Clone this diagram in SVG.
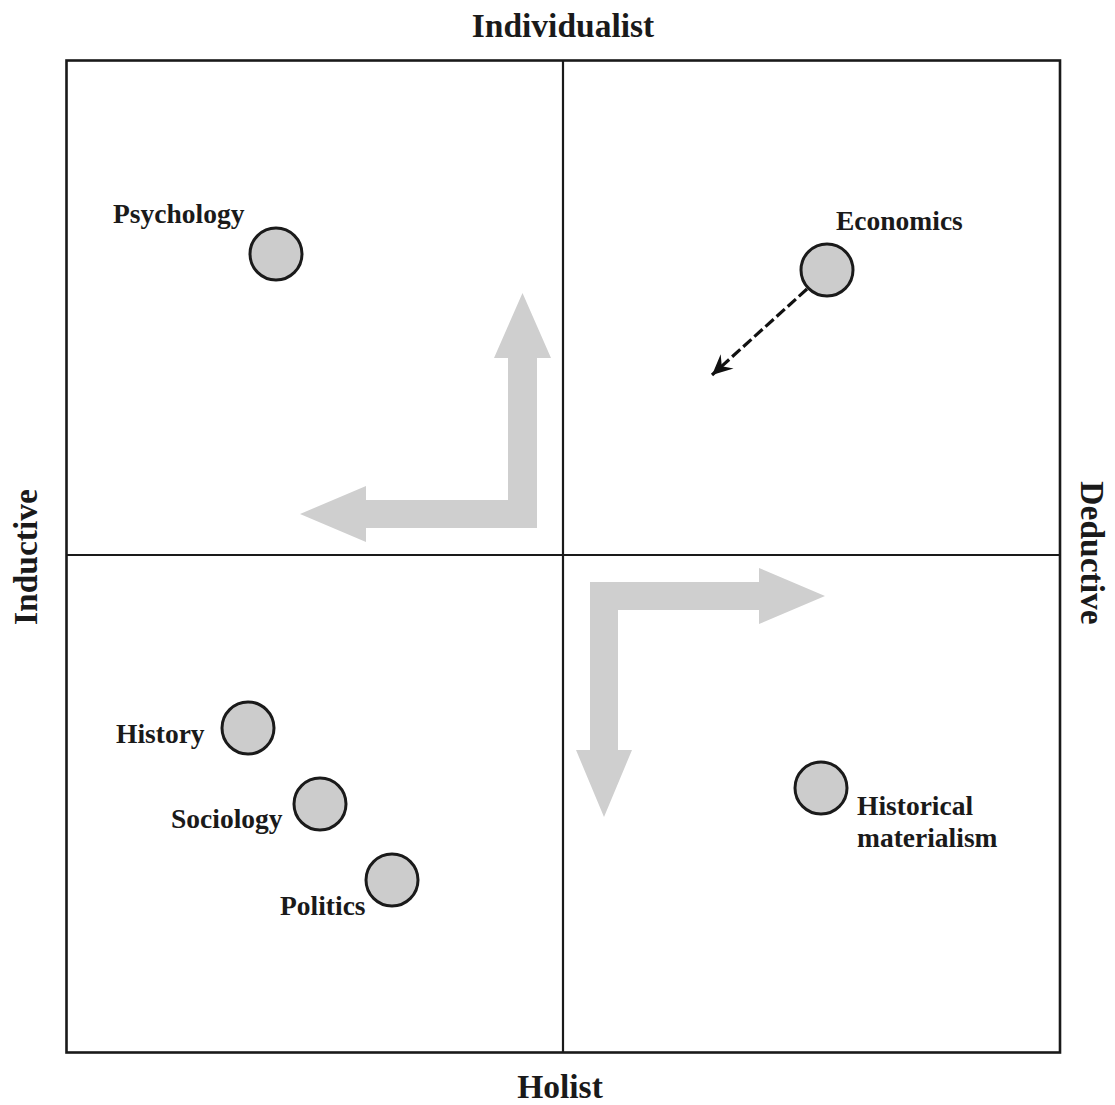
<svg xmlns="http://www.w3.org/2000/svg" width="1115" height="1105" viewBox="0 0 1115 1105">
  <style>
    .frame { fill: none; stroke: #1a1a1a; stroke-width: 2.6; }
    .axis { stroke: #1a1a1a; stroke-width: 2.2; }
    .node { fill: #cccccc; stroke: #1a1a1a; stroke-width: 3; }
    .lbl { font-family: "Liberation Serif", "Times New Roman", serif; font-weight: bold; font-size: 27.5px; fill: #1a1a1a; }
    .axlbl { font-family: "Liberation Serif", "Times New Roman", serif; font-weight: bold; font-size: 33.5px; fill: #1a1a1a; }
    .bigarrow { fill: #cfcfcf; }
    .shift { fill: none; stroke: #111111; stroke-width: 3.2; stroke-dasharray: 11 4; }
  </style>
  <defs>
    <marker id="barb" markerUnits="userSpaceOnUse" markerWidth="24" markerHeight="24" viewBox="-18 -10 20 20" refX="0" refY="0" orient="auto">
      <path d="M0,0 L-17,-8 L-11,0 L-17,8 Z" fill="#111111"/>
    </marker>
  </defs>
  <rect width="1115" height="1105" fill="#ffffff"/>

  <!-- quadrant frame -->
  <g id="frame">
    <rect class="frame" x="66.5" y="60.5" width="993.5" height="992"/>
    <line class="axis" x1="563" y1="60.5" x2="563" y2="1052.5"/>
    <line class="axis" x1="66.5" y1="555" x2="1060" y2="555"/>
  </g>

  <!-- axis labels -->
  <g id="axis-labels">
    <text class="axlbl" x="563" y="37" text-anchor="middle">Individualist</text>
    <text class="axlbl" x="560" y="1098" text-anchor="middle">Holist</text>
    <text class="axlbl" transform="translate(37,557) rotate(-90)" text-anchor="middle">Inductive</text>
    <text class="axlbl" transform="translate(1081,553) rotate(90)" text-anchor="middle">Deductive</text>
  </g>

  <!-- broad direction arrows -->
  <g id="direction-arrows">
    <polygon class="bigarrow" points="522.5,293 551,358 537,358 537,528 366,528 366,542 300,514 366,486 366,500 508,500 508,358 494,358"/>
    <polygon class="bigarrow" points="590,582 759,582 759,568 825,596 759,624 759,610 618,610 618,750 632,750 604,817 576,750 590,750"/>
  </g>

  <!-- disciplines -->
  <g id="psychology">
    <circle class="node" cx="276" cy="254" r="26"/>
    <text class="lbl" x="113" y="223">Psychology</text>
  </g>
  <g id="economics">
    <circle class="node" cx="827" cy="270" r="26"/>
    <text class="lbl" x="836" y="230">Economics</text>
  </g>
  <g id="history">
    <circle class="node" cx="248" cy="728" r="26"/>
    <text class="lbl" x="116" y="743">History</text>
  </g>
  <g id="sociology">
    <circle class="node" cx="320" cy="804" r="26"/>
    <text class="lbl" x="171" y="828">Sociology</text>
  </g>
  <g id="politics">
    <circle class="node" cx="392" cy="880" r="26"/>
    <text class="lbl" x="280" y="915">Politics</text>
  </g>
  <g id="historical-materialism">
    <circle class="node" cx="821" cy="788" r="26"/>
    <text class="lbl" x="857" y="815">Historical</text>
    <text class="lbl" x="857" y="847">materialism</text>
  </g>

  <!-- connectors -->
  <g id="connectors">
    <line class="shift" x1="807" y1="289" x2="712" y2="375" marker-end="url(#barb)"/>
  </g>
</svg>
